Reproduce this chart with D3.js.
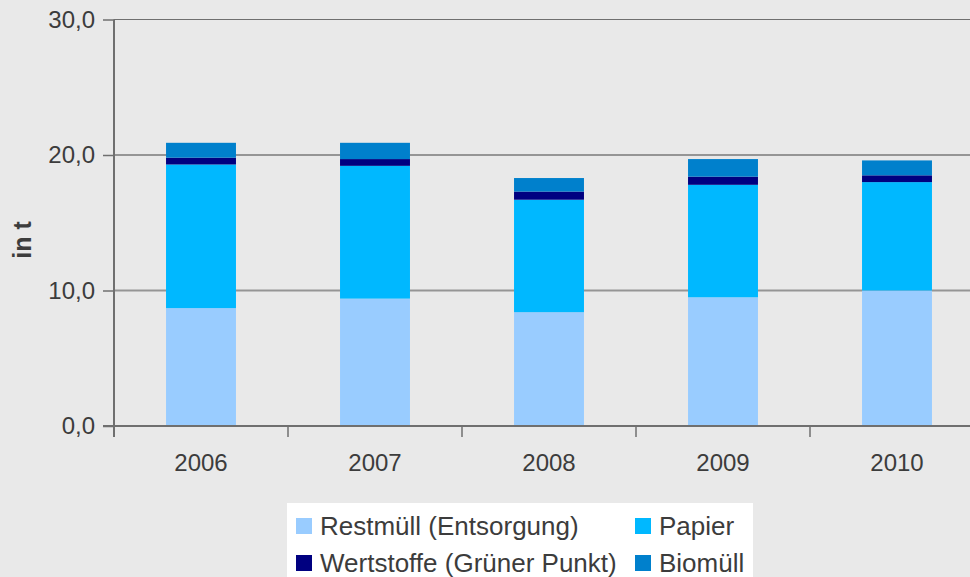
<!DOCTYPE html>
<html>
<head>
<meta charset="utf-8">
<script src="https://cdn.jsdelivr.net/npm/d3@7"></script>
<style>
  body { margin: 0; background: #e9e9e9; }
  svg { display: block; font-family: "Liberation Sans", Arial, sans-serif; }
</style>
</head>
<body>
<script>
// data (tonnes)
let years = ["2006", "2007", "2008", "2009", "2010"];
let restmuell = [8.7, 9.4, 8.4, 9.5, 10.0];
let papier = [10.6, 9.8, 8.3, 8.3, 8.0];
let wertstoffe = [0.5, 0.5, 0.6, 0.6, 0.5];
let biomuell = [1.1, 1.2, 1.0, 1.3, 1.1];
let seriesNames = ["Restmüll (Entsorgung)", "Papier", "Wertstoffe (Grüner Punkt)", "Biomüll"];
let seriesColors = ["#99ccff", "#00b8ff", "#000080", "#0080cc"];
let yTicks = [0, 10, 20, 30];

let width = 970;
let height = 577;
let plotLeft = 114, plotRight = 984, plotTop = 19.5, plotBottom = 426;

let rows = years.map((y, i) => ({
  year: y,
  s0: restmuell[i],
  s1: papier[i],
  s2: wertstoffe[i],
  s3: biomuell[i]
}));

let stack = d3.stack().keys(["s0", "s1", "s2", "s3"]);
let layers = stack(rows);

let svg = d3.select("body")
  .append("svg")
  .attr("width", width)
  .attr("height", height);

svg.append("rect")
  .attr("width", width)
  .attr("height", height)
  .attr("fill", "#e9e9e9");

let xScale = d3.scaleBand()
  .domain(years)
  .range([plotLeft, plotRight])
  .paddingInner(0.598)
  .paddingOuter(0.299);

let yScale = d3.scaleLinear()
  .domain([0, 30])
  .range([plotBottom, plotTop]);

// grid lines
svg.append("g")
  .selectAll("line")
  .data(yTicks.filter(d => d > 0 && d < 30))
  .join("line")
  .attr("x1", plotLeft)
  .attr("x2", width)
  .attr("y1", d => yScale(d))
  .attr("y2", d => yScale(d))
  .attr("stroke", "#959595")
  .attr("stroke-width", 2);

// top border
svg.append("line")
  .attr("x1", plotLeft)
  .attr("x2", width)
  .attr("y1", yScale(30))
  .attr("y2", yScale(30))
  .attr("stroke", "#6f6f6f")
  .attr("stroke-width", 1);

// bars
svg.append("g")
  .selectAll("g")
  .data(layers)
  .join("g")
  .attr("fill", (d, i) => seriesColors[i])
  .selectAll("rect")
  .data(d => d)
  .join("rect")
  .attr("x", d => xScale(d.data.year))
  .attr("width", xScale.bandwidth())
  .attr("y", d => yScale(d[1]))
  .attr("height", d => yScale(d[0]) - yScale(d[1]));

// y axis
let yAxis = d3.axisLeft(yScale)
  .tickValues(yTicks)
  .tickSize(11)
  .tickPadding(8)
  .tickFormat(d => d3.format(".1f")(d).replace(".", ","));

let gyAxis = svg.append("g")
  .attr("id", "y-axis")
  .attr("transform", "translate(" + plotLeft + ",0)")
  .call(yAxis);

gyAxis.select(".domain").remove();
gyAxis.selectAll(".tick line").attr("stroke", "#6f6f6f").attr("stroke-width", 1.5);
gyAxis.selectAll("text")
  .attr("fill", "#3c3c3c")
  .style("font-size", "24px");

svg.append("line")
  .attr("x1", plotLeft)
  .attr("x2", plotLeft)
  .attr("y1", yScale(30))
  .attr("y2", plotBottom + 11)
  .attr("stroke", "#6f6f6f")
  .attr("stroke-width", 2);

// x axis
let boundaries = years.map(y => xScale(y) - xScale.step() * xScale.paddingInner() / 2);

svg.append("line")
  .attr("x1", plotLeft - 11)
  .attr("x2", width)
  .attr("y1", plotBottom)
  .attr("y2", plotBottom)
  .attr("stroke", "#6f6f6f")
  .attr("stroke-width", 2);

svg.append("g")
  .selectAll("line")
  .data(boundaries.slice(1))
  .join("line")
  .attr("x1", d => d)
  .attr("x2", d => d)
  .attr("y1", plotBottom)
  .attr("y2", plotBottom + 11)
  .attr("stroke", "#6f6f6f")
  .attr("stroke-width", 1.5);

svg.append("g")
  .selectAll("text")
  .data(years)
  .join("text")
  .attr("x", d => xScale(d) + xScale.bandwidth() / 2)
  .attr("y", 471)
  .attr("text-anchor", "middle")
  .attr("fill", "#3c3c3c")
  .style("font-size", "24px")
  .text(d => d);

// axis title
svg.append("text")
  .attr("transform", "translate(31,240) rotate(-90)")
  .attr("text-anchor", "middle")
  .attr("fill", "#3c3c3c")
  .style("font-size", "25px")
  .style("font-weight", "bold")
  .text("in t");

// legend
let legend = svg.append("g");

legend.append("rect")
  .attr("x", 287)
  .attr("y", 503)
  .attr("width", 466)
  .attr("height", 80)
  .attr("fill", "#ffffff");

let legendPos = [[296, 518], [635, 518], [296, 555], [635, 555]];

let items = legend.selectAll("g")
  .data(seriesNames)
  .join("g")
  .attr("transform", (d, i) => "translate(" + legendPos[i][0] + "," + legendPos[i][1] + ")");

items.append("rect")
  .attr("width", 16)
  .attr("height", 16)
  .attr("fill", (d, i) => seriesColors[i]);

items.append("text")
  .attr("x", 24)
  .attr("y", 17)
  .attr("fill", "#3c3c3c")
  .style("font-size", "26px")
  .text(d => d);
</script>
</body>
</html>
